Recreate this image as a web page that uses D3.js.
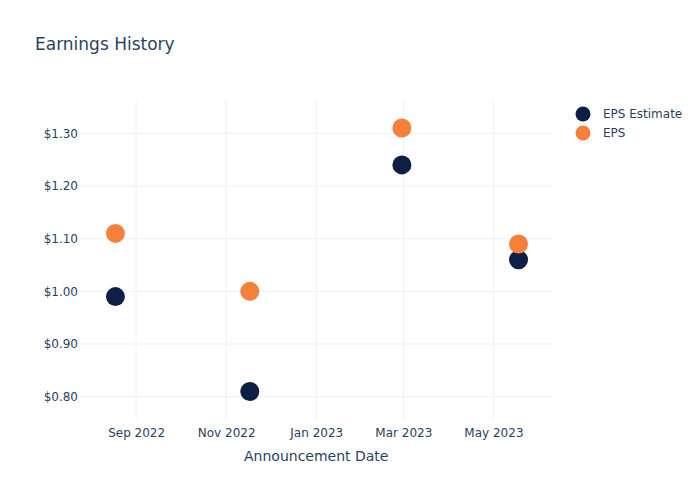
<!DOCTYPE html>
<html><head><meta charset="utf-8">
<script src="https://cdn.jsdelivr.net/npm/d3@7"></script>
<style>body{margin:0;background:#fff}svg{display:block}text{font-family:"DejaVu Sans",Verdana,sans-serif;fill:#2a3f5f}</style>
</head><body><svg id="c" width="700" height="500"></svg>
<script>
const dates = ["2022-08-18","2022-11-17","2023-02-28","2023-05-18"];
const epsEstimate = [0.99, 0.81, 1.24, 1.06];
const eps = [1.11, 1.00, 1.31, 1.09];
const seriesNames = ["EPS Estimate","EPS"];
const yTicks = [0.8,0.9,1.0,1.1,1.2,1.3];
const xTicks = ["2022-09-01","2022-11-01","2023-01-01","2023-03-01","2023-05-01"];

const parse = d3.utcParse("%Y-%m-%d");
const svg = d3.select("#c");
const L=80, R=552.5, T=100, B=420;
const x = d3.scaleUtc().domain([parse("2022-07-25"), parse("2023-06-10")]).range([L,R]);
const y = d3.scaleLinear().domain([0.7558, 1.3632]).range([B,T]);
const colors = ["#0d1f45","#f5803a"];

svg.append("text").attr("x",35).attr("y",50).attr("font-size",17).text("Earnings History");

const g = svg.append("g");
g.selectAll(".gx").data(xTicks).join("line")
  .attr("x1",d=>x(parse(d))).attr("x2",d=>x(parse(d))).attr("y1",T).attr("y2",B)
  .attr("stroke","#ebf0f8").attr("stroke-width",1);
g.selectAll(".gy").data(yTicks).join("line")
  .attr("x1",L).attr("x2",R).attr("y1",d=>y(d)).attr("y2",d=>y(d))
  .attr("stroke","#ebf0f8").attr("stroke-width",1);

const ya = svg.append("g").attr("transform",`translate(${L},0)`)
  .call(d3.axisLeft(y).tickValues(yTicks).tickFormat(d=>"$"+d3.format(".2f")(d)).tickSize(0).tickPadding(2));
ya.select(".domain").remove();
ya.selectAll("text").attr("font-size",12).attr("fill","#2a3f5f").style("font-family","DejaVu Sans");

const xa = svg.append("g").attr("transform",`translate(0,${B})`)
  .call(d3.axisBottom(x).tickValues(xTicks.map(parse)).tickFormat(d3.utcFormat("%b %Y")).tickSize(0).tickPadding(8));
xa.select(".domain").remove();
xa.selectAll("text").attr("font-size",12).attr("fill","#2a3f5f").style("font-family","DejaVu Sans");

svg.append("text").attr("x",(L+R)/2).attr("y",461).attr("text-anchor","middle").attr("font-size",14).text("Announcement Date");

[epsEstimate, eps].forEach((vals,i)=>{
  svg.append("g").selectAll("circle").data(vals).join("circle")
    .attr("cx",(d,j)=>x(parse(dates[j]))).attr("cy",d=>y(d)).attr("r",9.5)
    .attr("fill",colors[i]);
});

const lg = svg.append("g");
seriesNames.forEach((n,i)=>{
  lg.append("circle").attr("cx",583).attr("cy",114+19*i).attr("r",7.5).attr("fill",colors[i]);
  lg.append("text").attr("x",603).attr("y",118+19*i).attr("font-size",12).text(n);
});
</script></body></html>
